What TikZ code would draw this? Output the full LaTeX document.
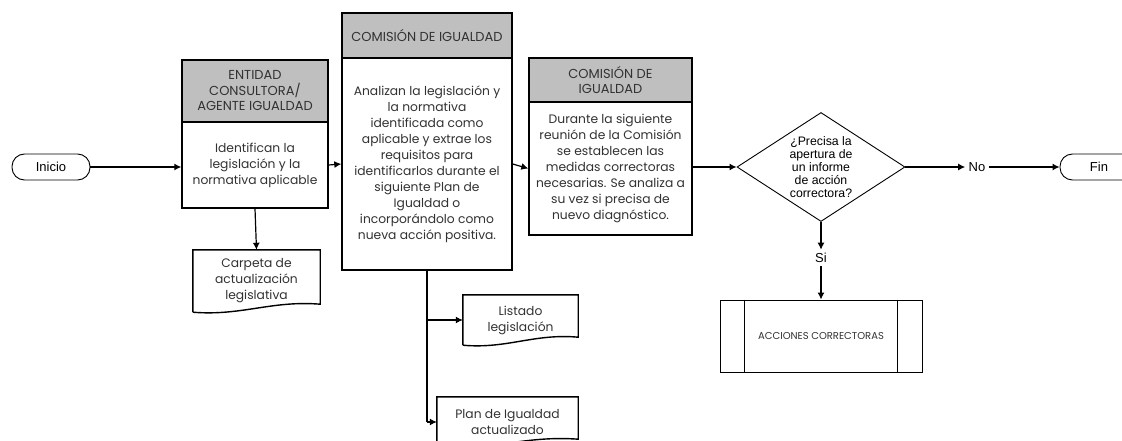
\documentclass[tikz,border=0pt]{standalone}
\usepackage{fontspec}
\setmainfont{Poppins}
\newfontfamily\arialfont{Liberation Sans}
\usetikzlibrary{shapes.geometric,arrows.meta,calc}
\definecolor{headGray}{RGB}{191,191,191}
\definecolor{textGray}{RGB}{50,50,50}

\tikzset{
  head/.style={draw, line width=1.4pt, fill=headGray, text=textGray, align=center,
    inner sep=0pt, font=\fontsize{13}{15.5}\selectfont},
  body/.style={draw, line width=1.4pt, fill=white, text=textGray, align=center,
    inner sep=0pt, font=\fontsize{12.3}{16}\selectfont},
  docText/.style={text=textGray, align=center, inner sep=0pt,
    font=\fontsize{12.3}{16}\selectfont},
  term/.style={draw, line width=0.9pt, rounded corners=12.5pt, minimum width=78,
    minimum height=26, font=\arialfont\fontsize{13}{14}\selectfont},
  flow/.style={line width=1.2pt, -{Latex[length=7pt,width=7pt]}},
}

% document symbol with wavy bottom
\newcommand{\docShape}[1]{%
  \draw[line width=1.4pt] (#1.south west) -- (#1.north west) -- (#1.north east)
    -- ($(#1.south east)+(0,-8)$)
    .. controls ($(#1.south west)!0.62!(#1.south east)+(0,-12)$)
       and ($(#1.south west)!0.38!(#1.south east)+(0,4)$) .. (#1.south west);}

\begin{document}
\begin{tikzpicture}[x=1pt, y=-1pt]
  \useasboundingbox (0,0) rectangle (1122,441);

  \node[term] (inicio) at (51,167) {Inicio};

  % entidad consultora
  \node[head, minimum width=146, minimum height=62] (entHead) at (255,91)
    {ENTIDAD\\CONSULTORA/\\AGENTE IGUALDAD};
  \node[body, minimum width=146, minimum height=86] (entBody) at (255,165)
    {Identifican la\\legislación y la\\normativa aplicable};
  \node[docText, minimum width=127, minimum height=62] (carpeta) at (256.5,281)
    {Carpeta de\\actualización\\legislativa};
  \docShape{carpeta}

  % comision de igualdad
  \node[head, minimum width=170, minimum height=45] (comHead) at (427,35.5)
    {COMISIÓN DE IGUALDAD};
  \node[body, minimum width=170, minimum height=212] (comBody) at (427,164)
    {Analizan la legislación y\\la normativa\\identificada como\\aplicable y extrae los\\requisitos para\\identificarlos durante el\\siguiente Plan de\\Igualdad o\\incorporándolo como\\nueva acción positiva.};
  \node[docText, minimum width=115, minimum height=50] (listado) at (520.5,320)
    {Listado\\legislación};
  \docShape{listado}
  \node[docText, minimum width=141, minimum height=50] (plan) at (507.5,422)
    {Plan de Igualdad\\actualizado};
  \docShape{plan}

  % medidas correctoras
  \node[head, minimum width=163, minimum height=44] (medHead) at (610.5,80)
    {COMISIÓN DE\\IGUALDAD};
  \node[body, minimum width=163, minimum height=133] (medBody) at (610.5,168.5)
    {Durante la siguiente\\reunión de la Comisión\\se establecen las\\medidas correctoras\\necesarias. Se analiza a\\su vez si precisa de\\nuevo diagnóstico.};

  % decision
  \node[draw, diamond, aspect=1.54, line width=0.9pt, minimum width=168, minimum height=109,
    inner sep=0pt, align=center, font=\arialfont\fontsize{12.3}{13}\selectfont] (dec) at (821,167)
    {¿Precisa la\\apertura de\\un informe\\de acción\\correctora?};
  \node[font=\arialfont\fontsize{13}{14}\selectfont] (no) at (977,167) {No};
  \node[font=\arialfont\fontsize{13}{14}\selectfont] (si) at (821,258) {Si};
  \node[term] (fin) at (1099,167) {Fin};
  \node[draw, line width=0.9pt, minimum width=202, minimum height=72,
    font=\fontsize{10}{12}\selectfont, text=textGray] (acc) at (821,336) {ACCIONES CORRECTORAS};
  \draw[line width=0.9pt] ($(acc.north west)+(25,0)$) -- ($(acc.south west)+(25,0)$);
  \draw[line width=0.9pt] ($(acc.north east)+(-25,0)$) -- ($(acc.south east)+(-25,0)$);

  % connectors
  \draw[flow] (inicio.east) -- (inicio.east -| entBody.west);
  \draw[flow] (entBody.east) -- (comBody.west);
  \draw[flow] (entBody.south) -- (carpeta.north);
  \draw[flow] (comBody.east) -- (medBody.west);
  \draw[line width=1.2pt] (comBody.south) -- (comBody.south |- plan.west);
  \draw[flow] (comBody.south |- listado.west) -- (listado.west);
  \draw[flow] (comBody.south |- plan.west) -- (plan.west);
  \draw[flow] (medBody.east |- dec.west) -- (dec.west);
  \draw[flow] (dec.east) -- (no.west);
  \draw[flow] (no.east) -- (fin.west);
  \draw[flow] (dec.south) -- (si.north);
  \draw[flow] (si.south) -- (acc.north);
\end{tikzpicture}
\end{document}
